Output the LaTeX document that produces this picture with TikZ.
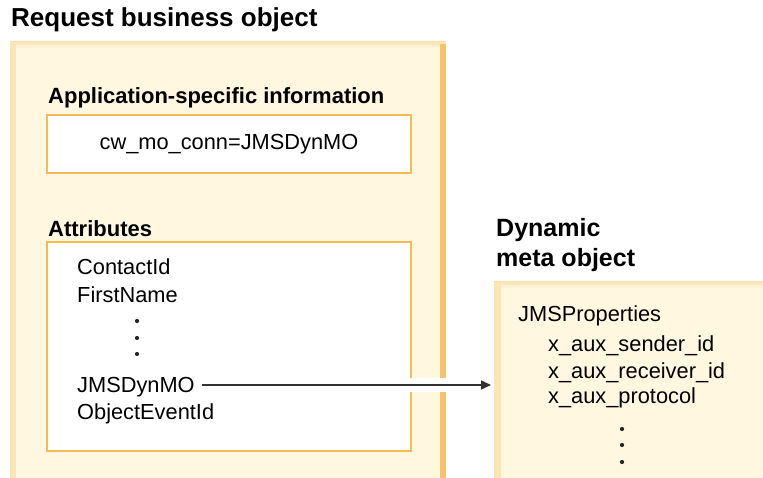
\documentclass[tikz,border=0pt]{standalone}
\usepackage{fontspec}
\setmainfont{Liberation Sans}
\usetikzlibrary{arrows.meta}
\definecolor{panelfill}{HTML}{FFF7DF}
\definecolor{stripelight}{HTML}{F9E5B6}
\definecolor{stripedark}{HTML}{F3C46C}
\definecolor{boxline}{HTML}{F6BA52}
\definecolor{inkline}{HTML}{333333}
\tikzset{
  txt/.style={anchor=base west, inner sep=0pt, font=\fontsize{21.8}{24}\selectfont},
  heading/.style={anchor=base west, inner sep=0pt, font=\fontsize{22}{24}\selectfont\bfseries},
  title/.style={anchor=base west, inner sep=0pt, font=\fontsize{25}{28}\selectfont\bfseries},
  dotmark/.style={circle, fill=black!85, inner sep=0pt, minimum size=4.2pt},
  infobox/.style={draw=boxline, line width=1.5pt, fill=white},
}
\begin{document}
\begin{tikzpicture}[x=1pt,y=-1pt]
\useasboundingbox (0,0) rectangle (763,478);

% request business object panel
\fill[panelfill] (10,42) rectangle (446,478);
\fill[top color=stripelight, bottom color=panelfill] (10,42) rectangle (446,48);
\fill[stripelight] (10,42) rectangle (16,478);
\fill[stripedark] (440,44) rectangle (446,478);
\node[title, font=\fontsize{26}{28}\selectfont\bfseries] (reqtitle) at (11,27) {Request business object};

% application-specific information
\node[heading] (asihead) at (48,104) {Application-specific information};
\draw[infobox] (47,115) rectangle (411,173);
\node[anchor=base, inner sep=0pt, font=\fontsize{21.8}{24}\selectfont] (asi) at (229,150) {cw\_mo\_conn=JMSDynMO};

% attributes
\node[heading] (atthead) at (48,237) {Attributes};
\draw[infobox] (47,242) rectangle (411,451);

% dynamic meta object panel
\node[title] (dyn1) at (496,237) {Dynamic};
\node[title] (dyn2) at (496,267) {meta object};
\fill[panelfill] (494,282) rectangle (763,478);
\fill[top color=stripelight, bottom color=panelfill] (494,282) rectangle (763,288);
\fill[stripelight] (494,282) rectangle (501,478);
\coordinate (meta) at (494,385);

% link from the JMSDynMO attribute to the meta object, on a white band
\coordinate (linkstart) at (204,385);
\draw[white, line width=14pt] (linkstart) -- ([xshift=-4pt]meta);

% attribute names
\node[txt] (contact) at (77,275) {ContactId};
\node[txt] (first) at (77,302) {FirstName};
\node[dotmark] (ad1) at (137,321) {};
\node[dotmark] (ad2) at (137,338) {};
\node[dotmark] (ad3) at (137,354) {};
\node[txt] (dynmo) at (77,392) {JMSDynMO};
\node[txt] (evid) at (77,419) {ObjectEventId};

% meta object properties
\node[txt] (jmsprop) at (518,322) {JMSProperties};
\node[txt] (sender) at (548,352) {x\_aux\_sender\_id};
\node[txt] (receiver) at (548,378) {x\_aux\_receiver\_id};
\node[txt] (protocol) at (548,403) {x\_aux\_protocol};
\node[dotmark] (md1) at (622,429) {};
\node[dotmark] (md2) at (622,445) {};
\node[dotmark] (md3) at (622,462) {};

\draw[inkline, line width=1.4pt, -{Triangle[length=10pt, width=9pt]}]
  ([xshift=7pt]dynmo.base east |- linkstart) -- ([xshift=-3pt]meta);
\end{tikzpicture}
\end{document}
